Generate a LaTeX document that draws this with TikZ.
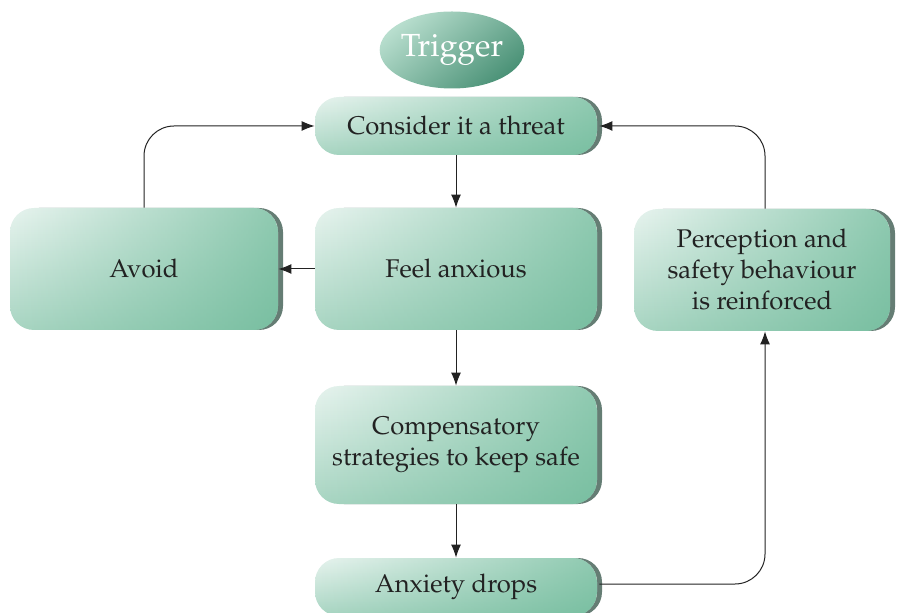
\documentclass[tikz,border=0pt]{standalone}
\usepackage[T1]{fontenc}
\usepackage{mathpazo}
\usetikzlibrary{arrows.meta,shapes.geometric,fadings,shadows}
\definecolor{mintA}{HTML}{E8F4EF}
\definecolor{mintB}{HTML}{A8D5C2}
\definecolor{mintR}{HTML}{5FB38F}
\definecolor{shadecol}{HTML}{4A665C}
\definecolor{txt}{HTML}{222222}
\definecolor{ellA}{HTML}{B8DECE}
\definecolor{ellB}{HTML}{4B9277}
\tikzset{
 box/.style={rounded corners=12pt, inner sep=0pt, align=center, text=txt,
   font=\fontsize{12.8}{15.5}\selectfont, top color=mintA, bottom color=mintB,
   drop shadow={shadow xshift=2.5pt, shadow yshift=0pt, fill=shadecol, opacity=0.85},
   path picture={\fill[mintR, fill opacity=0.65, path fading=west]
     (path picture bounding box.south west) rectangle (path picture bounding box.north east);}},
 arr/.style={draw=txt, line width=0.5pt, -{Latex[length=6.5pt,width=5pt]}},
}
\begin{document}
\begin{tikzpicture}[x=0.5pt,y=-0.5pt]
\useasboundingbox (0,0) rectangle (897,613);
\clip (0,0) rectangle (897,613);
\node[ellipse, minimum width=70.5pt, minimum height=38.5pt, inner sep=0pt,
  top color=ellA, bottom color=ellB, shading angle=40,
  text=white, font=\fontsize{16}{19}\selectfont] (trig) at (452,50) {Trigger};
\node[box, minimum width=141pt, minimum height=29pt] (consider) at (456,126) {Consider it a threat};
\node[box, minimum width=141pt, minimum height=61pt] (feel) at (456,269) {Feel anxious};
\node[box, minimum width=134pt, minimum height=61pt] (avoid) at (144,269) {Avoid};
\node[box, minimum width=128pt, minimum height=61pt] (perc) at (762,270) {Perception and\\ safety behaviour\\ is reinforced};
\node[box, minimum width=141pt, minimum height=59pt] (comp) at (456,445) {Compensatory\\ strategies to keep safe};
\node[box, minimum width=141pt, minimum height=29pt] (drops) at (456,587) {Anxiety drops};
\draw[arr] (consider) -- (feel);
\draw[arr] (feel) -- (avoid);
\draw[arr] (feel) -- (comp);
\draw[arr] (comp) -- (drops);
\draw[arr, rounded corners=15pt] (avoid.north) |- (consider.west);
\draw[arr, rounded corners=15pt] ([xshift=1.5pt]perc.north) |- ([xshift=1pt]consider.east);
\draw[arr, rounded corners=15pt] ([xshift=1pt]drops.east |- 0,584) -| ([xshift=1.5pt]perc.south);
\end{tikzpicture}
\end{document}
